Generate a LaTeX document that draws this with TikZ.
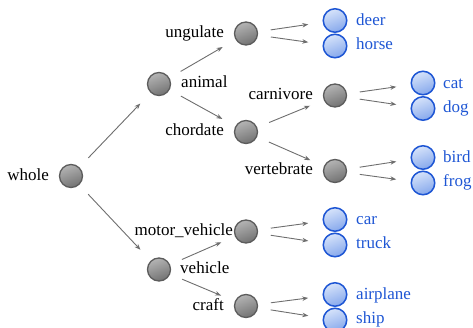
\documentclass[tikz,border=0pt]{standalone}
\usepackage{fontspec}
\setmainfont{Liberation Serif}
\usetikzlibrary{arrows.meta,calc}
\definecolor{nodeblue}{HTML}{1E56D4}
\definecolor{leaflight}{HTML}{D6E3FA}
\definecolor{leafdark}{HTML}{86A8EC}
\definecolor{graylight}{HTML}{B4B4B4}
\definecolor{graydark}{HTML}{727272}
\definecolor{grayrim}{HTML}{5C5C5C}
\definecolor{arrowgray}{HTML}{6E6E6E}
\begin{document}
\begin{tikzpicture}[x=1pt,y=-1pt,
  inner/.style={circle, minimum size=23pt, inner sep=0pt, line width=1.3pt,
    draw=grayrim, top color=graylight, bottom color=graydark, shading angle=20},
  leaf/.style={circle, minimum size=23.5pt, inner sep=0pt, line width=1.5pt,
    draw=nodeblue, top color=leaflight, bottom color=leafdark, shading angle=20},
  lbl/.style={font=\rmfamily\fontsize{17}{19}\selectfont, inner sep=0pt, text=black},
  blbl/.style={lbl, text=nodeblue},
  arr/.style={-{Stealth[length=6pt,width=4.5pt]}, draw=arrowgray, line width=0.9pt,
    shorten <=25pt, shorten >=27pt}]
\useasboundingbox (0,0) rectangle (473,328);
% inner nodes
\node[inner] (whole) at (71,176) {};
\node[inner] (animal) at (159,84) {};
\node[inner] (vehicle) at (159,269.5) {};
\node[inner] (ungulate) at (246,33.5) {};
\node[inner] (chordate) at (246,132) {};
\node[inner] (carnivore) at (335,95.5) {};
\node[inner] (vertebrate) at (335,171) {};
\node[inner] (motor) at (246,231.5) {};
\node[inner] (craft) at (246,306) {};
% leaves
\node[leaf] (deer) at (335,20.5) {};
\node[leaf] (horse) at (335,46) {};
\node[leaf] (cat) at (423,83) {};
\node[leaf] (dog) at (423,108.5) {};
\node[leaf] (bird) at (423,157.5) {};
\node[leaf] (frog) at (423,183) {};
\node[leaf] (car) at (335,219.5) {};
\node[leaf] (truck) at (335,245) {};
\node[leaf] (airplane) at (335,294.5) {};
\node[leaf] (ship) at (335,320) {};
% labels
\node[lbl, anchor=mid east] (l-whole) at ($(whole)+(-22,2.5)$) {whole};
\node[lbl, anchor=mid west] (l-animal) at ($(animal)+(22,1.5)$) {animal};
\node[lbl, anchor=mid west] (l-vehicle) at ($(vehicle)+(21,1.5)$) {vehicle};
\node[lbl, anchor=mid east] (l-ungulate) at ($(ungulate)+(-22,1.5)$) {ungulate};
\node[lbl, anchor=mid east] (l-chordate) at ($(chordate)+(-22,1)$) {chordate};
\node[lbl, anchor=mid east] (l-carnivore) at ($(carnivore)+(-22,1.5)$) {carnivore};
\node[lbl, anchor=mid east] (l-vertebrate) at ($(vertebrate)+(-22,1)$) {vertebrate};
\node[lbl, anchor=mid east] (l-motor) at ($(motor)+(-13,1.5)$) {motor\_vehicle};
\node[lbl, anchor=mid east] (l-craft) at ($(craft)+(-22,2)$) {craft};
\node[blbl, anchor=mid west] (l-deer) at ($(deer)+(21,3)$) {deer};
\node[blbl, anchor=mid west] (l-horse) at ($(horse)+(21,1.5)$) {horse};
\node[blbl, anchor=mid west] (l-cat) at ($(cat)+(20,3)$) {cat};
\node[blbl, anchor=mid west] (l-dog) at ($(dog)+(20,1.5)$) {dog};
\node[blbl, anchor=mid west] (l-bird) at ($(bird)+(20,3)$) {bird};
\node[blbl, anchor=mid west] (l-frog) at ($(frog)+(20,1.5)$) {frog};
\node[blbl, anchor=mid west] (l-car) at ($(car)+(21,3)$) {car};
\node[blbl, anchor=mid west] (l-truck) at ($(truck)+(21,1.5)$) {truck};
\node[blbl, anchor=mid west] (l-airplane) at ($(airplane)+(21,3)$) {airplane};
\node[blbl, anchor=mid west] (l-ship) at ($(ship)+(21,1.5)$) {ship};
% connectors
\draw[arr] (whole.center) -- (animal.center);
\draw[arr] (whole.center) -- (vehicle.center);
\draw[arr] (animal.center) -- (ungulate.center);
\draw[arr] (animal.center) -- (chordate.center);
\draw[arr] (vehicle.center) -- (motor.center);
\draw[arr] (vehicle.center) -- (craft.center);
\draw[arr] (chordate.center) -- (carnivore.center);
\draw[arr] (chordate.center) -- (vertebrate.center);
\draw[arr] (ungulate.center) -- (deer.center);
\draw[arr] (ungulate.center) -- (horse.center);
\draw[arr] (carnivore.center) -- (cat.center);
\draw[arr] (carnivore.center) -- (dog.center);
\draw[arr] (vertebrate.center) -- (bird.center);
\draw[arr] (vertebrate.center) -- (frog.center);
\draw[arr] (motor.center) -- (car.center);
\draw[arr] (motor.center) -- (truck.center);
\draw[arr] (craft.center) -- (airplane.center);
\draw[arr] (craft.center) -- (ship.center);
\end{tikzpicture}
\end{document}
